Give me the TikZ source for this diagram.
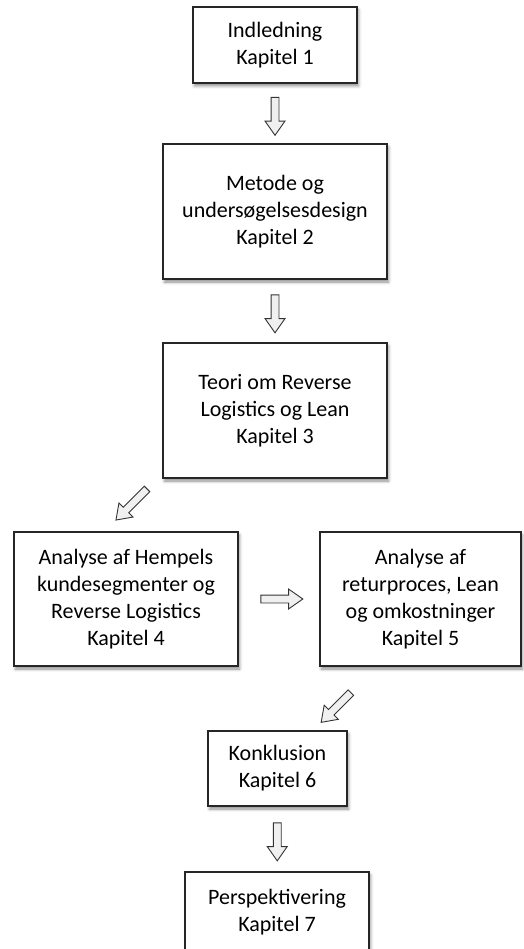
\documentclass[tikz,border=0pt]{standalone}
\usepackage{fontspec}
\setmainfont{Carlito}
\usetikzlibrary{calc,shapes.arrows,shadows.blur}

\begin{document}
\begin{tikzpicture}[x=1pt,y=-1pt,
    kap/.style={draw=black!85,line width=1.2pt,fill=white,align=center,inner sep=0pt,
        font=\fontsize{22}{27}\selectfont,
        blur shadow={shadow xshift=1.5pt,shadow yshift=-3pt,shadow blur radius=3pt,shadow opacity=45}},
    blokpil/.style={single arrow,draw=black!80,line width=0.9pt,fill=gray!12,inner sep=3.5pt,
        single arrow head extend=6pt,single arrow tip angle=70,minimum height=#1},
    blokpil/.default=38pt]
    \useasboundingbox (0,0) rectangle (523,949);
    % kapitler
    \node[kap,minimum width=164,minimum height=76] (kap1) at (275,45) {Indledning\\Kapitel 1};
    \node[kap,minimum width=224,minimum height=135] (kap2) at (275,211.5) {Metode og\\unders\o gelsesdesign\\Kapitel 2};
    \node[kap,minimum width=224,minimum height=135] (kap3) at (275,410.5) {Teori om Reverse\\Logistics og Lean\\Kapitel 3};
    \node[kap,minimum width=224,minimum height=134] (kap4) at (126,599) {Analyse af Hempels\\kundesegmenter og\\Reverse Logistics\\Kapitel 4};
    \node[kap,minimum width=201,minimum height=134] (kap5) at (420.5,599) {Analyse af\\returproces, Lean\\og omkostninger\\Kapitel 5};
    \node[kap,minimum width=139,minimum height=75] (kap6) at (277.5,768.5) {Konklusion\\Kapitel 6};
    \node[kap,minimum width=184,minimum height=80] (kap7) at (277,912) {Perspektivering\\Kapitel 7};
    % pile
    \node[blokpil,rotate=-90] (pil1) at ($(kap1.south)!0.5!(kap2.north)$) {};
    \node[blokpil,rotate=-90] (pil2) at ($(kap2.south)!0.5!(kap3.north)$) {};
    \node[blokpil=44pt,rotate=-135] (pil3) at (133.5,502.5) {};
    \node[blokpil=42pt,rotate=0] (pil4) at ($(kap4.east)!0.5!(kap5.west)$) {};
    \node[blokpil=42pt,rotate=-135] (pil5) at (338,705.5) {};
    \node[blokpil,rotate=-90] (pil6) at ($(kap6.south)!0.5!(kap7.north)$) {};
\end{tikzpicture}
\end{document}
